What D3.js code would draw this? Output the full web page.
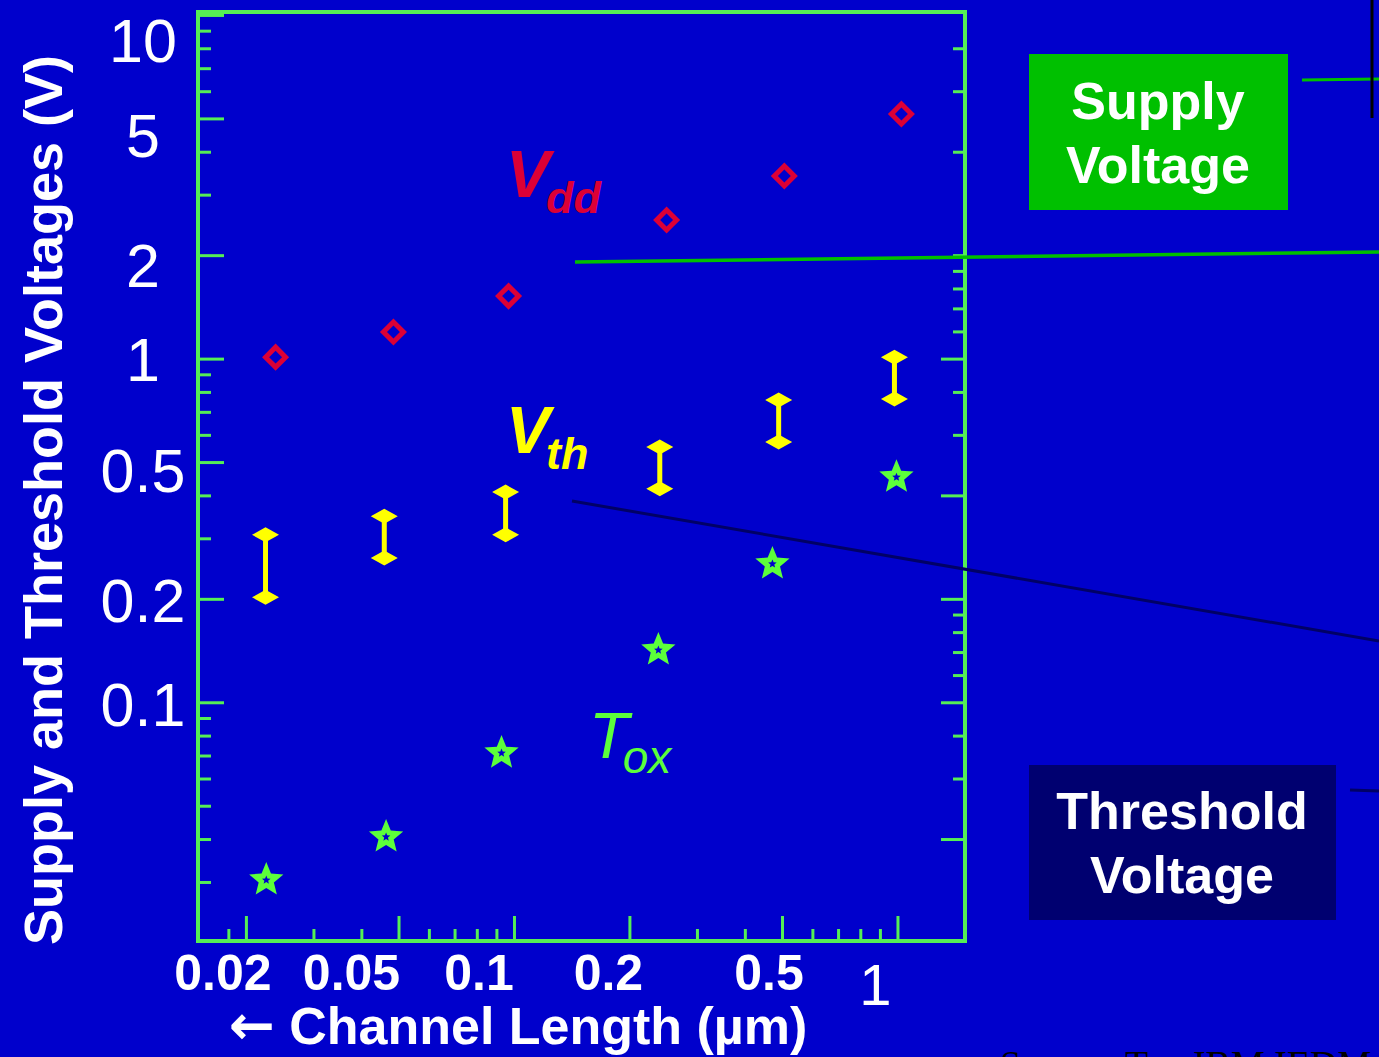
<!DOCTYPE html>
<html>
<head>
<meta charset="utf-8">
<script src="https://cdn.jsdelivr.net/npm/d3@7"></script>
<style>
  html, body { margin: 0; padding: 0; background: #0000cc; overflow: hidden; }
  svg { display: block; }
</style>
</head>
<body>
<svg id="chart" width="1379" height="1057"></svg>
<script>
// ---- data ----
const vddLength = [0.0239, 0.0485, 0.0968, 0.25, 0.507, 1.024];
const vddValue  = [1.01, 1.195, 1.52, 2.53, 3.40, 5.15];

const vthLength = [0.0225, 0.0459, 0.0951, 0.240, 0.490, 0.982];
const vthHigh   = [0.307, 0.348, 0.409, 0.553, 0.758, 1.01];
const vthLow    = [0.202, 0.263, 0.307, 0.418, 0.572, 0.763];

const toxLength = [0.0226, 0.0464, 0.0928, 0.238, 0.472, 0.994];
const toxValue  = [0.0308, 0.0411, 0.0721, 0.1438, 0.256, 0.458];

const yTickLabels = [10, 5, 2, 1, 0.5, 0.2, 0.1];
const xTickLabels = [0.02, 0.05, 0.1, 0.2, 0.5, 1];

const yMajorLeft  = [10, 5, 2, 1, 0.5, 0.2, 0.1];
const yMinorLeft  = [9, 8, 7, 6, 4, 3, 0.9, 0.8, 0.7, 0.6, 0.4, 0.3, 0.09, 0.08, 0.07, 0.06, 0.05, 0.04, 0.03];
const yMajorRight = [1, 0.4, 0.2, 0.1, 0.04];
const yMinorRight = [8, 6, 4, 2, 1.8, 1.6, 1.4, 1.2, 0.8, 0.6, 0.18, 0.16, 0.14, 0.12, 0.08, 0.06];
const xMajor = [0.02, 0.05, 0.1, 0.2, 0.5, 1];
const xMinor = [0.018, 0.03, 0.04, 0.06, 0.07, 0.08, 0.09, 0.3, 0.4, 0.6, 0.7, 0.8, 0.9];

// ---- styles ----
const BG = "#0000cc", FRAME = "#55ee55", RED = "#dc0036", YEL = "#ffff00",
      LIME = "#5cff3a", BOXGREEN = "#00c000", NAVY = "#000070";
const SANS = "Liberation Sans, Arial, sans-serif";

const svg = d3.select("#chart");
svg.append("rect").attr("width", 1379).attr("height", 1057).attr("fill", BG);

const L = 198, R = 965, T = 12, B = 941;
const x = d3.scaleLog().domain([0.015, 1.5]).range([L, R]);
const y = d3.scaleLog().domain([0.0202, 10.2]).range([B, T]);

// callout lines (decoration from the slide)
const callouts = [
  {x1: 575, y1: 262, x2: 1379, y2: 252, c: BOXGREEN, w: 3.5},
  {x1: 1302, y1: 80, x2: 1379, y2: 79, c: BOXGREEN, w: 3},
  {x1: 1372, y1: 0, x2: 1372, y2: 118, c: "#000000", w: 3},
  {x1: 572, y1: 501, x2: 1379, y2: 641, c: "#000066", w: 3},
  {x1: 1350, y1: 790, x2: 1379, y2: 791, c: "#000066", w: 3}
];

// axes ticks
function styleAxis(g) {
  g.select(".domain").remove();
  g.selectAll(".tick line").attr("stroke", FRAME).attr("stroke-width", 3);
  g.selectAll(".tick text").remove();
}
svg.append("g").attr("transform", `translate(${L},0)`)
  .call(d3.axisRight(y).tickValues(yMajorLeft).tickSize(26).tickFormat("")).call(styleAxis);
svg.append("g").attr("transform", `translate(${L},0)`)
  .call(d3.axisRight(y).tickValues(yMinorLeft).tickSize(13).tickFormat("")).call(styleAxis);
svg.append("g").attr("transform", `translate(${R},0)`)
  .call(d3.axisLeft(y).tickValues(yMajorRight).tickSize(24).tickFormat("")).call(styleAxis);
svg.append("g").attr("transform", `translate(${R},0)`)
  .call(d3.axisLeft(y).tickValues(yMinorRight).tickSize(12).tickFormat("")).call(styleAxis);
svg.append("g").attr("transform", `translate(0,${B})`)
  .call(d3.axisTop(x).tickValues(xMajor).tickSize(25).tickFormat("")).call(styleAxis);
svg.append("g").attr("transform", `translate(0,${B})`)
  .call(d3.axisTop(x).tickValues(xMinor).tickSize(12).tickFormat("")).call(styleAxis);

// frame
svg.append("rect").attr("x", L).attr("y", T).attr("width", R - L).attr("height", B - T)
  .attr("fill", "none").attr("stroke", FRAME).attr("stroke-width", 4);

// callouts
svg.append("g").selectAll("line").data(callouts).join("line")
  .attr("x1", d => d.x1).attr("y1", d => d.y1).attr("x2", d => d.x2).attr("y2", d => d.y2)
  .attr("stroke", d => d.c).attr("stroke-width", d => d.w);

// y tick labels (slide placed them slightly below the ticks near the top)
const yLabelShift = {10: 25, 5: 17, 2: 10, 1: 0, 0.5: 8, 0.2: 1, 0.1: 2};
svg.append("g").selectAll("text").data(yTickLabels).join("text")
  .attr("x", 143).attr("y", d => y(d) + yLabelShift[d])
  .attr("dy", "0.36em")
  .attr("text-anchor", "middle")
  .attr("fill", "#ffffff")
  .attr("font-family", SANS)
  .attr("font-size", 61)
  .text(d => d);

// x tick labels
const xLabelShift = {0.02: -23, 0.05: -47, 0.1: -35, 0.2: -21, 0.5: -13, 1: -22};
svg.append("g").selectAll("text").data(xTickLabels).join("text")
  .attr("x", d => x(d) + xLabelShift[d])
  .attr("y", d => d === 1 ? 1005 : 990)
  .attr("text-anchor", "middle")
  .attr("fill", "#ffffff")
  .attr("font-family", SANS)
  .attr("font-weight", d => d === 1 ? "normal" : "bold")
  .attr("font-size", d => d === 1 ? 58 : 50)
  .text(d => d);

// axis titles
svg.append("text")
  .attr("transform", "translate(62,500) rotate(-90)")
  .attr("text-anchor", "middle")
  .attr("fill", "#ffffff")
  .attr("font-family", SANS)
  .attr("font-weight", "bold")
  .attr("font-size", 54)
  .text("Supply and Threshold Voltages (V)");

const xt = svg.append("text")
  .attr("x", 518).attr("y", 1044)
  .attr("text-anchor", "middle")
  .attr("fill", "#ffffff")
  .attr("font-family", SANS)
  .attr("font-weight", "bold")
  .attr("font-size", 52);
xt.append("tspan").attr("font-family", "DejaVu Sans, sans-serif").attr("font-weight", "bold")
  .attr("font-size", 55).text("\u2190");
xt.append("tspan").text(" Channel Length (\u00b5m)");

// Vdd markers: hollow diamonds
const vdd = vddLength.map((l, i) => ({l, v: vddValue[i]}));
svg.append("g").selectAll("path").data(vdd).join("path")
  .attr("transform", d => `translate(${x(d.l)},${y(d.v)}) rotate(45)`)
  .attr("d", d3.symbol(d3.symbolSquare, 200)())
  .attr("fill", "none").attr("stroke", RED).attr("stroke-width", 5);

// Vth range bars
const vth = vthLength.map((l, i) => ({l, hi: vthHigh[i], lo: vthLow[i]}));
const gV = svg.append("g");
gV.selectAll("line").data(vth).join("line")
  .attr("x1", d => x(d.l)).attr("x2", d => x(d.l))
  .attr("y1", d => y(d.hi)).attr("y2", d => y(d.lo))
  .attr("stroke", YEL).attr("stroke-width", 5);
const cap = "M-13.5,0L0,-7.5L13.5,0L0,7.5Z";
gV.selectAll("path.hi").data(vth).join("path").attr("class", "hi")
  .attr("transform", d => `translate(${x(d.l)},${y(d.hi)})`).attr("d", cap).attr("fill", YEL);
gV.selectAll("path.lo").data(vth).join("path").attr("class", "lo")
  .attr("transform", d => `translate(${x(d.l)},${y(d.lo)})`).attr("d", cap).attr("fill", YEL);

// Tox stars
function starPath(ro, ri) {
  const pts = [];
  for (let k = 0; k < 10; k++) {
    const a = -Math.PI / 2 + k * Math.PI / 5;
    const r = k % 2 === 0 ? ro : ri;
    pts.push([r * Math.cos(a), r * Math.sin(a)]);
  }
  return d3.line()(pts) + "Z";
}
const tox = toxLength.map((l, i) => ({l, v: toxValue[i]}));
const gT = svg.append("g");
gT.selectAll("path.big").data(tox).join("path").attr("class", "big")
  .attr("transform", d => `translate(${x(d.l)},${y(d.v) + 2})`)
  .attr("d", starPath(18, 8)).attr("fill", LIME);
gT.selectAll("path.small").data(tox).join("path").attr("class", "small")
  .attr("transform", d => `translate(${x(d.l)},${y(d.v) + 2})`)
  .attr("d", starPath(4.5, 2)).attr("fill", BG);

// series labels
function seriesLabel(xp, yp, main, sub, color, weight, fsMain, fsSub, dxSub, dySub) {
  const t = svg.append("text").attr("x", xp).attr("y", yp)
    .attr("fill", color).attr("font-family", SANS)
    .attr("font-style", "italic").attr("font-weight", weight);
  t.append("tspan").attr("font-size", fsMain).text(main);
  t.append("tspan").attr("font-size", fsSub).attr("dx", dxSub).attr("dy", dySub).text(sub);
}
seriesLabel(506, 197, "V", "dd", RED, "bold", 66, 45, -4, 16);
seriesLabel(506, 453, "V", "th", YEL, "bold", 66, 45, -4, 16);
seriesLabel(589, 758, "T", "ox", LIME, "normal", 65, 46, -6, 15);

// callout boxes
const boxes = [
  {x0: 1029, y0: 54, w: 259, h: 156, fill: BOXGREEN, lines: ["Supply", "Voltage"], cx: 1158, base: [119, 183]},
  {x0: 1029, y0: 765, w: 307, h: 155, fill: NAVY, lines: ["Threshold", "Voltage"], cx: 1182, base: [829, 893]}
];
boxes.forEach(b => {
  svg.append("rect").attr("x", b.x0).attr("y", b.y0).attr("width", b.w).attr("height", b.h).attr("fill", b.fill);
  b.lines.forEach((s, i) => {
    svg.append("text").attr("x", b.cx).attr("y", b.base[i]).attr("text-anchor", "middle")
      .attr("fill", "#ffffff").attr("font-family", SANS)
      .attr("font-weight", "bold").attr("font-size", 52).text(s);
  });
});

// source line (cut off at the bottom edge, as on the slide)
svg.append("text").attr("x", 1000).attr("y", 1077)
  .attr("fill", "#000000").attr("font-family", "Liberation Serif, Times New Roman, serif")
  .attr("font-size", 38).text("Source: Tox IBM IEDM");
</script>
</body>
</html>
